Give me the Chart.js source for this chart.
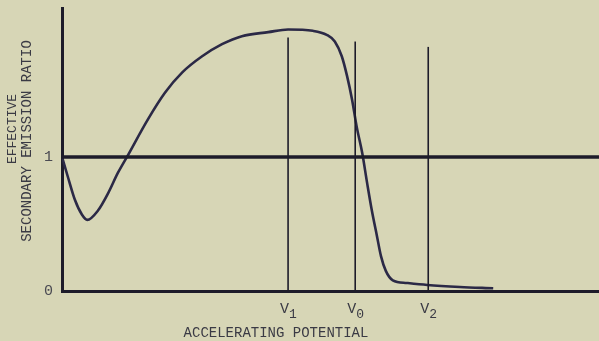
<!DOCTYPE html>
<html>
<head>
<meta charset="utf-8">
<script src="https://cdn.jsdelivr.net/npm/chart.js"></script>
<style>
  html, body { margin: 0; padding: 0; background: #d7d6b6; }
  #chart { display: block; }
</style>
</head>
<body>
<canvas id="chart" width="599" height="341"></canvas>
<script>
// curve (x in arbitrary potential units, 0..100 across the axis)
var curveX = [0, 1.1, 2.4, 3.7, 4.7, 6.7, 8.6, 10.4, 12.1, 16.0, 19.2, 22.4, 26.1, 29.8, 33.5, 38.4, 42.1, 46.7, 49.3, 50.8, 52.1, 53.1, 54.0, 54.9, 55.9, 56.8, 57.7, 58.6, 59.4, 60.3, 61.6, 64.2, 68.0, 74.1, 80.3];
var curveY = [1.0, 0.85, 0.68, 0.57, 0.53, 0.60, 0.73, 0.88, 1.0, 1.28, 1.48, 1.63, 1.75, 1.84, 1.90, 1.93, 1.95, 1.94, 1.91, 1.86, 1.75, 1.60, 1.43, 1.22, 1.03, 0.81, 0.60, 0.42, 0.26, 0.15, 0.08, 0.06, 0.045, 0.03, 0.02];

// marked potentials V1, V0, V2 and how high their lines go
var vNames = ['V', 'V', 'V'];
var vSubs = ['1', '0', '2'];
var vValues = [42.1, 54.6, 68.2];
var vTops = [1.89, 1.86, 1.82];

var yTickValues = [0, 1];
var yTickLabels = ['0', '1'];

var ink = '#1d1c2a';
var pen = '#2b2946';
var typeInk = '#3a3a44';
var typeFont = '"Liberation Mono", "DejaVu Sans Mono", monospace';

var datasets = [];

// unity line
datasets.push({
  data: [{x: 0, y: 1}, {x: 100, y: 1}],
  borderColor: ink,
  borderWidth: 3.5,
  pointRadius: 0,
  showLine: true
});

vValues.forEach(function(v, i) {
  datasets.push({
    data: [{x: v, y: 0}, {x: v, y: vTops[i]}],
    borderColor: ink,
    borderWidth: 1.6,
    pointRadius: 0,
    showLine: true
  });
});

datasets.push({
  data: curveX.map(function(x, i) { return {x: x, y: curveY[i]}; }),
  borderColor: pen,
  borderWidth: 2.6,
  pointRadius: 0,
  showLine: true,
  cubicInterpolationMode: 'monotone'
});

// typed labels: V with subscripts under the x axis, and the axis titles
var typedText = {
  id: 'typedText',
  afterDraw: function(chart) {
    var ctx = chart.ctx;
    var xs = chart.scales.x;
    ctx.save();
    ctx.fillStyle = typeInk;
    ctx.textBaseline = 'middle';

    vValues.forEach(function(v, i) {
      var px = xs.getPixelForValue(v);
      ctx.textAlign = 'right';
      ctx.font = '15px ' + typeFont;
      ctx.fillText(vNames[i], px + 1, 309);
      ctx.textAlign = 'left';
      ctx.font = '13px ' + typeFont;
      ctx.fillText(vSubs[i], px + 1, 315);
    });

    ctx.textAlign = 'center';
    ctx.font = '14px ' + typeFont;
    ctx.fillText('ACCELERATING POTENTIAL', 276, 333);

    ctx.translate(13, 129);
    ctx.rotate(-Math.PI / 2);
    ctx.font = '13px ' + typeFont;
    ctx.fillText('EFFECTIVE', 0, 0);
    ctx.restore();

    ctx.save();
    ctx.fillStyle = typeInk;
    ctx.textAlign = 'center';
    ctx.textBaseline = 'middle';
    ctx.translate(27, 141);
    ctx.rotate(-Math.PI / 2);
    ctx.font = '14px ' + typeFont;
    ctx.fillText('SECONDARY EMISSION RATIO', 0, 0);
    ctx.restore();
  }
};

new Chart(document.getElementById('chart').getContext('2d'), {
  type: 'scatter',
  data: { datasets: datasets },
  options: {
    responsive: false,
    animation: false,
    layout: { padding: { top: 8, left: 0, right: 0, bottom: 0 } },
    plugins: { legend: { display: false }, tooltip: { enabled: false } },
    scales: {
      x: {
        type: 'linear',
        min: 0,
        max: 100,
        grid: { display: false, drawTicks: false },
        border: { display: true, color: ink, width: 3 },
        afterBuildTicks: function(scale) {
          scale.ticks = vValues.map(function(v) { return {value: v}; });
        },
        afterFit: function(scale) { scale.height = 50; },
        ticks: { display: false }
      },
      y: {
        min: 0,
        max: 2.11,
        grid: { display: false, drawTicks: false },
        border: { display: true, color: ink, width: 3 },
        afterBuildTicks: function(scale) {
          scale.ticks = yTickValues.map(function(v) { return {value: v}; });
        },
        afterFit: function(scale) {
          scale.width = 62;
          scale.paddingTop = 0;
          scale.paddingBottom = 0;
        },
        ticks: {
          padding: 9,
          color: '#4a4a52',
          font: { family: typeFont, size: 15 },
          callback: function(value) {
            var i = yTickValues.indexOf(value);
            return i >= 0 ? yTickLabels[i] : '';
          }
        }
      }
    }
  },
  plugins: [typedText]
});
</script>
</body>
</html>
